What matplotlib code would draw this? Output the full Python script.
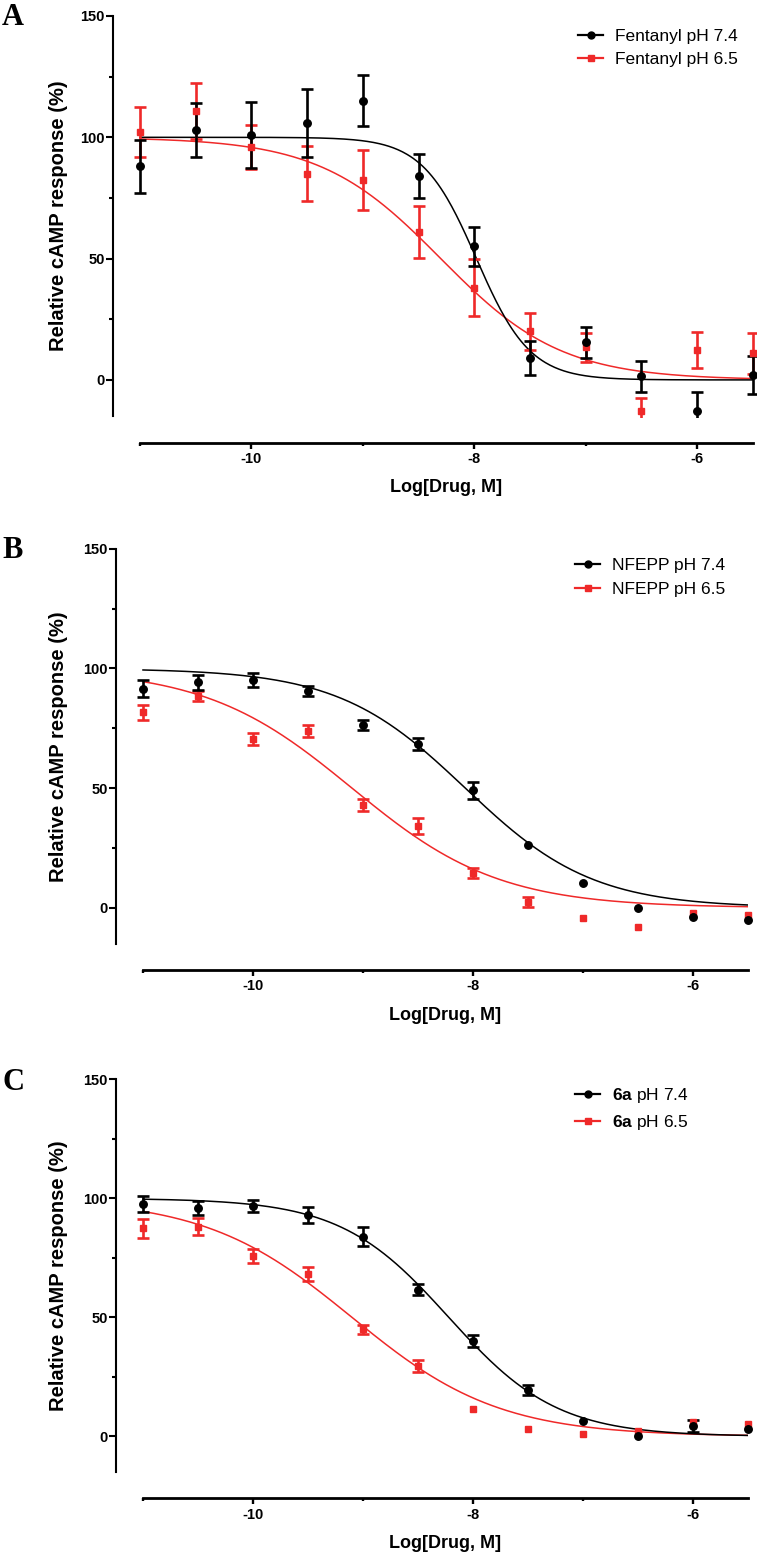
import numpy as np
import matplotlib
matplotlib.use("Agg")
import matplotlib.pyplot as plt
import matplotlib.patches as mpatches
import matplotlib.transforms as mtransforms
from matplotlib.lines import Line2D
from matplotlib.ticker import FixedLocator

plt.rcParams['font.family'] = ['Liberation Sans', 'DejaVu Sans']
plt.rcParams['mathtext.fontset'] = 'custom'
plt.rcParams['mathtext.rm'] = 'Liberation Sans'
plt.rcParams['mathtext.bf'] = 'Liberation Sans:bold'
plt.rcParams['axes.unicode_minus'] = False

# log[drug, M] doses
log_dose = [-11, -10.5, -10, -9.5, -9, -8.5, -8, -7.5, -7, -6.5, -6, -5.5]

# panel A - fentanyl
fent_74 = [88, 103, 101, 106, 115, 84, 55, 9, 15.5, 1.5, -13, 2]
fent_74_sem = [11, 11, 13.5, 14, 10.5, 9, 8, 7, 6.5, 6.5, 8.2, 8]
fent_65 = [102, 111, 96, 85, 82.5, 61, 38, 20, 13.5, -13, 12.2, 11]
fent_65_sem = [10.3, 11.5, 9, 11.4, 12.4, 10.7, 11.8, 7.6, 6, 5.5, 7.4, 8.5]

# panel B - NFEPP
nfepp_74 = [91.6, 94.2, 95.1, 90.5, 76.3, 68.6, 49.1, 26.4, 10.5, 0, -3.9, -5.3]
nfepp_74_sem = [3.5, 3, 3, 2, 2, 2.5, 3.5, np.nan, np.nan, np.nan, np.nan, np.nan]
nfepp_65 = [81.6, 88.4, 70.4, 73.8, 43.1, 34.2, 14.6, 2.4, -4.3, -8.1, -2.1, -2.9]
nfepp_65_sem = [3, 2, 2.5, 2.5, 2.5, 3.5, 2, 2, np.nan, np.nan, np.nan, np.nan]

# panel C - 6a
a6_74 = [97.6, 95.8, 96.9, 93, 83.9, 61.7, 40.1, 19.4, 6.5, 0, 4.2, 2.9]
a6_74_sem = [3.5, 3, 2.5, 3.5, 4, 2.5, 2.5, 2, np.nan, np.nan, 2.5, np.nan]
a6_65 = [87.4, 88.1, 75.9, 68.2, 45, 29.6, 11.4, 2.9, 1.1, 2.1, 6, 5.3]
a6_65_sem = [4, 3.5, 3, 3, 2, 2.5, np.nan, np.nan, np.nan, np.nan, np.nan, np.nan]

# fitted sigmoid parameters (top, bottom, logIC50, hill)
fent_74_fit = (100, 0, -7.98, 1.8)
fent_65_fit = (100, 0, -8.3, 0.8)
nfepp_74_fit = (100, 0, -8.07, 0.75)
nfepp_65_fit = (100, 0, -9.1, 0.65)
a6_74_fit = (100, 0, -8.22, 0.88)
a6_65_fit = (100, 0, -9.1, 0.65)

RED = '#EF2929'
W, H = 757, 1556


def curve(x, p):
    top, bottom, logic50, hill = p
    return bottom + (top - bottom) / (1 + 10 ** ((x - logic50) * hill))


fig = plt.figure(figsize=(W / 100, H / 100), dpi=100)

# left, right, top(150), bottom(x-axis) in pixels
panels = [
    ('A', (113, 752.7, 16, 443), fent_74, fent_74_sem, fent_65, fent_65_sem,
     fent_74_fit, fent_65_fit, 'Fentanyl pH 7.4', 'Fentanyl pH 6.5', (578, 48), 25),
    ('B', (116, 748, 548.8, 970), nfepp_74, nfepp_74_sem, nfepp_65, nfepp_65_sem,
     nfepp_74_fit, nfepp_65_fit, 'NFEPP pH 7.4', 'NFEPP pH 6.5', (575, 577.5), 558),
    ('C', (116, 748, 1079.3, 1498.3), a6_74, a6_74_sem, a6_65, a6_65_sem,
     a6_74_fit, a6_65_fit, r'$\mathbf{6a}$ pH 7.4', r'$\mathbf{6a}$ pH 6.5', (575, 1109), 1090),
]

x = np.array(log_dose)
xs = np.linspace(-11, -5.5, 400)

for (letter, (l, r, t, b), y74, s74, y65, s65, p74, p65, lab74, lab65,
     leg_xy, letter_y) in panels:
    ax = fig.add_axes([l / W, 1 - b / H, (r - l) / W, (b - t) / H])
    # y-axis sits 27 px left of -11
    x_unit = (r - l) / (5.5 + 27 / 111.0)
    ax.set_xlim(-11 - 27 / x_unit, -5.5)
    ax.set_ylim(-26, 150)

    clip = mpatches.Rectangle((-12, -15.5), 8, 170, transform=ax.transData)

    for yv, sv, p, col, mk, ms in [(y65, s65, p65, RED, 's', 4.8),
                                   (y74, s74, p74, 'black', 'o', 5.4)]:
        yv = np.array(yv, dtype=float)
        sv = np.array(sv, dtype=float)
        ax.plot(xs, curve(xs, p), color=col, lw=1.1, zorder=2)
        m = ~np.isnan(sv)
        cont = ax.errorbar(x[m], yv[m], yerr=sv[m], fmt='none', ecolor=col,
                           elinewidth=1.9, capsize=4.2, capthick=1.9, zorder=3)
        for art in list(cont.lines[1]) + list(cont.lines[2]):
            art.set_clip_path(clip)
        ax.plot(x, yv, ls='none', marker=mk, color=col, ms=ms, zorder=4,
                clip_on=False)

    for side in ['top', 'right']:
        ax.spines[side].set_visible(False)
    ax.spines['left'].set_bounds(-15, 150)
    ax.spines['left'].set_linewidth(1.5)
    ax.spines['bottom'].set_bounds(-11, -5.5)
    ax.spines['bottom'].set_linewidth(2)

    ax.set_yticks([0, 50, 100, 150])
    ax.yaxis.set_minor_locator(FixedLocator([25, 75, 125]))
    ax.set_xticks([-10, -8, -6])
    ax.xaxis.set_minor_locator(FixedLocator([-11, -9, -7]))
    ax.tick_params(axis='y', which='major', length=5, width=1.5, pad=1,
                   labelsize=10.5)
    ax.tick_params(axis='y', which='minor', length=3, width=1.5)
    ax.tick_params(axis='x', which='major', length=4.3, width=1.7, pad=2.5,
                   labelsize=10.5)
    ax.tick_params(axis='x', which='minor', length=2.2, width=1.7)
    for tl in ax.get_xticklabels() + ax.get_yticklabels():
        tl.set_fontweight('bold')

    ax.set_ylabel('Relative cAMP response (%)', fontsize=14.5,
                  fontweight='bold', va='center')
    ax.yaxis.set_label_coords(59 / W, 67.5,
                              transform=mtransforms.blended_transform_factory(
                                  fig.transFigure, ax.transData))
    ax.set_xlabel('Log[Drug, M]', fontsize=13, fontweight='bold', va='center')
    ax.xaxis.set_label_coords(-8.25, 1 - (b + 45) / H,
                              transform=mtransforms.blended_transform_factory(
                                  ax.transData, fig.transFigure))

    handles = [Line2D([], [], color='black', marker='o', ms=5, lw=1.6),
               Line2D([], [], color=RED, marker='s', ms=4.5, lw=1.6)]
    ax.legend(handles, [lab74, lab65], loc='center left',
              bbox_to_anchor=(leg_xy[0] / W, 1 - leg_xy[1] / H),
              bbox_transform=fig.transFigure, frameon=False, fontsize=12.5,
              borderpad=0, borderaxespad=0, handlelength=1.44,
              handletextpad=0.69, labelspacing=0.5)

    fig.text(2 / W, 1 - letter_y / H, letter, family='Liberation Serif',
             fontweight='bold', fontsize=22, ha='left', va='baseline')

fig.savefig('out.png', dpi=100, facecolor='white')
